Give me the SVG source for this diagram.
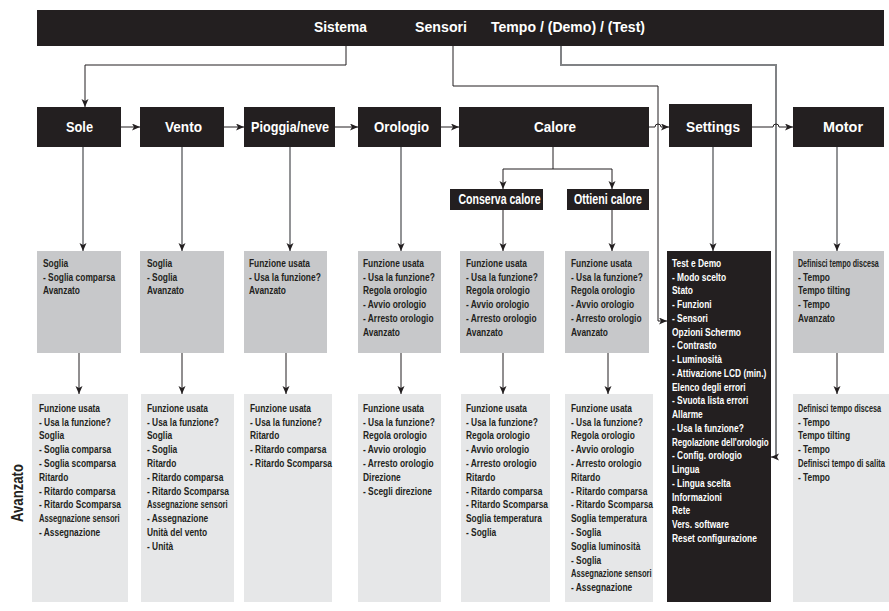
<svg xmlns="http://www.w3.org/2000/svg" width="889" height="611" viewBox="0 0 889 611">
<style>
text{font-family:"Liberation Sans",Arial,sans-serif;font-weight:bold}
.dk{fill:#231f20}
.mid{fill:#c7c8ca}
.bot{fill:#e6e7e8}
.h{font-size:15px;fill:#fff;text-anchor:middle}
.ht{font-size:15px;fill:#fff}
.s{font-size:14px;fill:#fff;text-anchor:middle}
.t text,.n{font-size:10px;fill:#231f20}
.tw text{font-size:10px;fill:#fff}
.c{fill:none;stroke:#231f20;stroke-width:1}
.g{fill:none;stroke:#77787b;stroke-width:1.6}
.g2{fill:none;stroke:#808285;stroke-width:2}
</style>
<defs>
<marker id="a" markerUnits="userSpaceOnUse" markerWidth="10" markerHeight="8" refX="8" refY="3.5" orient="auto">
<path d="M0,0 L8,3.5 L0,7 L2,3.5 z" fill="#231f20"/>
</marker>
</defs>
<rect width="889" height="611" fill="#fff"/>

<g id="connectors">
<path class="c" d="M346,46 V65 H85 V107" marker-end="url(#a)"/>
<path class="c" d="M453,46 V86 H658 V321 H667" marker-end="url(#a)"/>
<path class="g2" d="M561,46 V65 H776 V457"/>
<path class="c" d="M776,457 H771" marker-end="url(#a)"/>
<path class="c" d="M121,127 H140" marker-end="url(#a)"/>
<path class="c" d="M224,127 H244" marker-end="url(#a)"/>
<path class="c" d="M335,127 H358" marker-end="url(#a)"/>
<path class="c" d="M441,127 H459" marker-end="url(#a)"/>
<path class="c" d="M649,127 H655 A3,3 0 0 1 661,127 H669" marker-end="url(#a)"/>
<path class="c" d="M752,127 H773 A3,3 0 0 1 779,127 H793" marker-end="url(#a)"/>
<path class="g" d="M83,147 V251" marker-end="url(#a)"/>
<path class="g" d="M182,147 V251" marker-end="url(#a)"/>
<path class="g" d="M290,147 V251" marker-end="url(#a)"/>
<path class="g" d="M401,147 V251" marker-end="url(#a)"/>
<path class="g" d="M713,147 V251" marker-end="url(#a)"/>
<path class="g" d="M837,147 V251" marker-end="url(#a)"/>
<path class="c" d="M553,147 V169 M503,169 H612"/>
<path class="c" d="M503,169 V189" marker-end="url(#a)"/>
<path class="c" d="M612,169 V189" marker-end="url(#a)"/>
<path class="c" d="M503,210 V251" marker-end="url(#a)"/>
<path class="c" d="M612,210 V251" marker-end="url(#a)"/>
<path class="c" d="M79,353 V394" marker-end="url(#a)"/>
<path class="c" d="M182,353 V394" marker-end="url(#a)"/>
<path class="c" d="M286,353 V394" marker-end="url(#a)"/>
<path class="c" d="M401,353 V394" marker-end="url(#a)"/>
<path class="c" d="M503,353 V394" marker-end="url(#a)"/>
<path class="c" d="M608,353 V394" marker-end="url(#a)"/>
<path class="c" d="M837,353 V394" marker-end="url(#a)"/>
</g>

<g id="top">
<rect class="dk" x="37" y="10" width="847" height="36"/>
<text class="ht" x="314" y="32" textLength="53" lengthAdjust="spacingAndGlyphs">Sistema</text>
<text class="ht" x="415" y="32" textLength="52" lengthAdjust="spacingAndGlyphs">Sensori</text>
<text class="ht" x="491" y="32" textLength="154" lengthAdjust="spacingAndGlyphs">Tempo / (Demo) / (Test)</text>
</g>

<g id="sole">
<rect class="dk" x="37" y="107" width="84" height="40"/>
<text class="h" x="79.5" y="132" textLength="27" lengthAdjust="spacingAndGlyphs">Sole</text>
</g>
<g id="vento">
<rect class="dk" x="140" y="107" width="84" height="40"/>
<text class="h" x="183.5" y="132" textLength="37" lengthAdjust="spacingAndGlyphs">Vento</text>
</g>
<g id="pioggia">
<rect class="dk" x="244" y="107" width="91" height="40"/>
<text class="h" x="290" y="132" textLength="78" lengthAdjust="spacingAndGlyphs">Pioggia/neve</text>
</g>
<g id="orologio">
<rect class="dk" x="358" y="107" width="83" height="40"/>
<text class="h" x="401.5" y="132" textLength="55" lengthAdjust="spacingAndGlyphs">Orologio</text>
</g>
<g id="calore">
<rect class="dk" x="459" y="107" width="190" height="40"/>
<text class="h" x="555" y="132" textLength="42" lengthAdjust="spacingAndGlyphs">Calore</text>
</g>
<g id="settings">
<rect class="dk" x="669" y="104" width="83" height="43"/>
<text class="h" x="713" y="132" textLength="54" lengthAdjust="spacingAndGlyphs">Settings</text>
</g>
<g id="motor">
<rect class="dk" x="793" y="107" width="91" height="40"/>
<text class="h" x="843" y="132" textLength="40" lengthAdjust="spacingAndGlyphs">Motor</text>
</g>
<g id="conserva">
<rect class="dk" x="450" y="189" width="93" height="21"/>
<text class="s" x="499.5" y="204" textLength="82" lengthAdjust="spacingAndGlyphs">Conserva calore</text>
</g>
<g id="ottieni">
<rect class="dk" x="567" y="189" width="82" height="21"/>
<text class="s" x="608" y="204" textLength="68" lengthAdjust="spacingAndGlyphs">Ottieni calore</text>
</g>

<g id="sole-mid">
<rect class="mid" x="37" y="251" width="84" height="102"/>
<g class="t" transform="translate(43,0) scale(0.84,1)">
<text y="267">Soglia</text><text y="281">- Soglia comparsa</text><text y="294.5">Avanzato</text>
</g>
</g>
<g id="vento-mid">
<rect class="mid" x="140" y="251" width="84" height="102"/>
<g class="t" transform="translate(147,0) scale(0.84,1)">
<text y="267">Soglia</text><text y="281">- Soglia</text><text y="294.5">Avanzato</text>
</g>
</g>
<g id="pioggia-mid">
<rect class="mid" x="244" y="251" width="83" height="102"/>
<g class="t" transform="translate(249,0) scale(0.84,1)">
<text y="267">Funzione usata</text><text y="281">- Usa la funzione?</text><text y="294.5">Avanzato</text>
</g>
</g>
<g id="orologio-mid">
<rect class="mid" x="358" y="251" width="83" height="102"/>
<g class="t" transform="translate(363,0) scale(0.84,1)">
<text y="267">Funzione usata</text><text y="281">- Usa la funzione?</text><text y="294.5">Regola orologio</text><text y="308">- Avvio orologio</text><text y="322">- Arresto orologio</text><text y="336">Avanzato</text>
</g>
</g>
<g id="conserva-mid">
<rect class="mid" x="460" y="251" width="84" height="102"/>
<g class="t" transform="translate(466,0) scale(0.84,1)">
<text y="267">Funzione usata</text><text y="281">- Usa la funzione?</text><text y="294.5">Regola orologio</text><text y="308">- Avvio orologio</text><text y="322">- Arresto orologio</text><text y="336">Avanzato</text>
</g>
</g>
<g id="ottieni-mid">
<rect class="mid" x="565" y="251" width="84" height="102"/>
<g class="t" transform="translate(571,0) scale(0.84,1)">
<text y="267">Funzione usata</text><text y="281">- Usa la funzione?</text><text y="294.5">Regola orologio</text><text y="308">- Avvio orologio</text><text y="322">- Arresto orologio</text><text y="336">Avanzato</text>
</g>
</g>
<g id="settings-mid">
<rect class="dk" x="667" y="251" width="104" height="351"/>
<g class="tw" transform="translate(672,0) scale(0.84,1)">
<text y="267">Test e Demo</text><text y="281">- Modo scelto</text><text y="294.5">Stato</text><text y="308">- Funzioni</text><text y="322">- Sensori</text><text y="336">Opzioni Schermo</text><text y="349.5">- Contrasto</text><text y="363">- Luminosità</text><text y="377">- Attivazione LCD (min.)</text><text y="391">Elenco degli errori</text><text y="404.5">- Svuota lista errori</text><text y="418">Allarme</text><text y="432">- Usa la funzione?</text><text y="446" textLength="115" lengthAdjust="spacingAndGlyphs">Regolazione dell'orologio</text><text y="459.5">- Config. orologio</text><text y="473">Lingua</text><text y="487">- Lingua scelta</text><text y="501">Informazioni</text><text y="514.5">Rete</text><text y="528">Vers. software</text><text y="542">Reset configurazione</text>
</g>
</g>
<g id="motor-mid">
<rect class="mid" x="793" y="251" width="91" height="102"/>
<text class="n" transform="translate(798,267) scale(0.711,1)">Definisci tempo discesa</text>
<g class="t" transform="translate(798,0) scale(0.84,1)">
<text y="281">- Tempo</text><text y="294.5">Tempo tilting</text><text y="308">- Tempo</text><text y="322">Avanzato</text>
</g>
</g>

<g id="sole-bot">
<rect class="bot" x="32" y="394" width="96" height="208"/>
<g class="t" transform="translate(39,0) scale(0.84,1)">
<text y="412">Funzione usata</text><text y="426">- Usa la funzione?</text><text y="439.5">Soglia</text><text y="453.5">- Soglia comparsa</text><text y="467">- Soglia scomparsa</text><text y="481">Ritardo</text><text y="495">- Ritardo comparsa</text><text y="508.5">- Ritardo Scomparsa</text><text y="522.5" textLength="96" lengthAdjust="spacingAndGlyphs">Assegnazione sensori</text><text y="536">- Assegnazione</text>
</g>
</g>
<g id="vento-bot">
<rect class="bot" x="141" y="394" width="93" height="208"/>
<g class="t" transform="translate(147,0) scale(0.84,1)">
<text y="412">Funzione usata</text><text y="426">- Usa la funzione?</text><text y="439.5">Soglia</text><text y="453.5">- Soglia</text><text y="467">Ritardo</text><text y="481">- Ritardo comparsa</text><text y="495">- Ritardo Scomparsa</text><text y="508.5" textLength="96" lengthAdjust="spacingAndGlyphs">Assegnazione sensori</text><text y="522.5">- Assegnazione</text><text y="536">Unità del vento</text><text y="550">- Unità</text>
</g>
</g>
<g id="pioggia-bot">
<rect class="bot" x="244" y="394" width="88" height="208"/>
<g class="t" transform="translate(250,0) scale(0.84,1)">
<text y="412">Funzione usata</text><text y="426">- Usa la funzione?</text><text y="439.5">Ritardo</text><text y="453.5">- Ritardo comparsa</text><text y="467">- Ritardo Scomparsa</text>
</g>
</g>
<g id="orologio-bot">
<rect class="bot" x="358" y="394" width="83" height="208"/>
<g class="t" transform="translate(363,0) scale(0.84,1)">
<text y="412">Funzione usata</text><text y="426">- Usa la funzione?</text><text y="439.5">Regola orologio</text><text y="453.5">- Avvio orologio</text><text y="467">- Arresto orologio</text><text y="481">Direzione</text><text y="495">- Scegli direzione</text>
</g>
</g>
<g id="conserva-bot">
<rect class="bot" x="461" y="394" width="89" height="208"/>
<g class="t" transform="translate(466,0) scale(0.84,1)">
<text y="412">Funzione usata</text><text y="426">- Usa la funzione?</text><text y="439.5">Regola orologio</text><text y="453.5">- Avvio orologio</text><text y="467">- Arresto orologio</text><text y="481">Ritardo</text><text y="495">- Ritardo comparsa</text><text y="508.5">- Ritardo Scomparsa</text><text y="522.5">Soglia temperatura</text><text y="536">- Soglia</text>
</g>
</g>
<g id="ottieni-bot">
<rect class="bot" x="565" y="394" width="88" height="208"/>
<g class="t" transform="translate(571,0) scale(0.84,1)">
<text y="412">Funzione usata</text><text y="426">- Usa la funzione?</text><text y="439.5">Regola orologio</text><text y="453.5">- Avvio orologio</text><text y="467">- Arresto orologio</text><text y="481">Ritardo</text><text y="495">- Ritardo comparsa</text><text y="508.5">- Ritardo Scomparsa</text><text y="522.5">Soglia temperatura</text><text y="536">- Soglia</text><text y="550">Soglia luminosità</text><text y="564">- Soglia</text><text y="577.5" textLength="96" lengthAdjust="spacingAndGlyphs">Assegnazione sensori</text><text y="591.5">- Assegnazione</text>
</g>
</g>
<g id="motor-bot">
<rect class="bot" x="793" y="394" width="96" height="208"/>
<text class="n" transform="translate(798,412) scale(0.729,1)">Definisci tempo discesa</text>
<text class="n" transform="translate(798,467) scale(0.761,1)">Definisci tempo di salita</text>
<g class="t" transform="translate(798,0) scale(0.84,1)">
<text y="426">- Tempo</text><text y="439.5">Tempo tilting</text><text y="453.5">- Tempo</text><text y="481">- Tempo</text>
</g>
</g>

<g id="avanzato-label">
<text transform="translate(23,493) rotate(-90) scale(0.82,1)" x="0" y="0" text-anchor="middle" font-size="16" fill="#231f20">Avanzato</text>
</g>
</svg>
